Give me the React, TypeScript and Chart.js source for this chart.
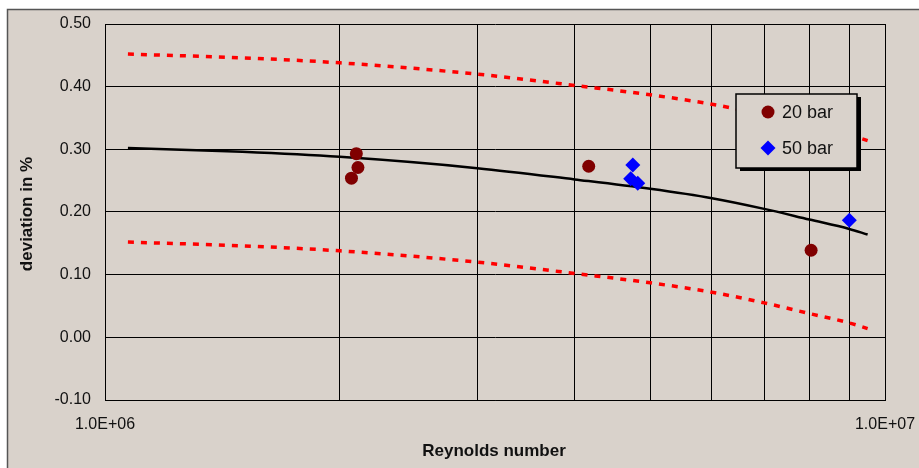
import React, { useEffect, useRef } from "react";
import { Chart, registerables } from "chart.js";

Chart.register(...registerables);

// Fitted curve and its ±band
const curveRe = [1.07e6, 1.5e6, 2e6, 3e6, 4e6, 5e6, 6e6, 7e6, 8e6, 9e6, 9.5e6];
const meanDev = [0.302, 0.296, 0.288, 0.27, 0.252, 0.237, 0.222, 0.205, 0.188, 0.173, 0.164];
const upperDev = [0.452, 0.446, 0.438, 0.42, 0.402, 0.387, 0.372, 0.355, 0.338, 0.323, 0.314];
const lowerDev = [0.152, 0.146, 0.138, 0.12, 0.102, 0.087, 0.072, 0.055, 0.038, 0.023, 0.014];

// Measurements
const bar20Re = [2.07e6, 2.1e6, 2.11e6, 4.17e6, 8.04e6];
const bar20Dev = [0.254, 0.293, 0.271, 0.273, 0.139];
const bar50Re = [4.75e6, 4.72e6, 4.82e6, 9.0e6];
const bar50Dev = [0.275, 0.253, 0.246, 0.187];

// Axes
const xTickValues = [1e6, 2e6, 3e6, 4e6, 5e6, 6e6, 7e6, 8e6, 9e6, 1e7];
const xLabelValues = [1e6, 1e7];
const xLabelTexts = ["1.0E+06", "1.0E+07"];
const yTickValues = [-0.1, 0, 0.1, 0.2, 0.3, 0.4, 0.5];

const BG = "#d9d2cb";
const FONT = "'Liberation Sans', Arial, sans-serif";

const zip = (xs: number[], ys: number[]) => xs.map((x, i) => ({ x, y: ys[i] }));

const bgPlugin = {
  id: "bgPlugin",
  beforeDraw(chart: any) {
    const { ctx, width, height } = chart;
    ctx.save();
    ctx.fillStyle = "#ffffff";
    ctx.fillRect(0, 0, width, height);
    ctx.fillStyle = BG;
    ctx.fillRect(7, 9, width, height);
    ctx.strokeStyle = "#555555";
    ctx.lineWidth = 1.5;
    ctx.strokeRect(7.5, 9.5, width + 10, height + 10);
    ctx.restore();
  },
};

const legendPlugin = {
  id: "boxLegend",
  afterDatasetsDraw(chart: any) {
    const { ctx } = chart;
    const ds = chart.data.datasets.filter((d: any) => d.inLegend);
    const x0 = 736;
    const y0 = 94;
    const w = 121;
    const h = 74;
    ctx.save();
    ctx.fillStyle = "#000";
    ctx.fillRect(x0 + 4, y0 + 3, w, h);
    ctx.fillStyle = BG;
    ctx.fillRect(x0, y0, w, h);
    ctx.strokeStyle = "#000";
    ctx.lineWidth = 1.5;
    ctx.strokeRect(x0, y0, w, h);
    ds.forEach((d: any, i: number) => {
      const cy = y0 + 18 + i * 36;
      const cx = x0 + 32;
      ctx.fillStyle = d.backgroundColor;
      ctx.beginPath();
      if (d.pointStyle === "rectRot") {
        const r = 7.5;
        ctx.moveTo(cx, cy - r);
        ctx.lineTo(cx + r, cy);
        ctx.lineTo(cx, cy + r);
        ctx.lineTo(cx - r, cy);
        ctx.closePath();
      } else {
        ctx.arc(cx, cy, 6.5, 0, Math.PI * 2);
      }
      ctx.fill();
      ctx.fillStyle = "#111";
      ctx.font = `18px ${FONT}`;
      ctx.textBaseline = "middle";
      ctx.textAlign = "left";
      ctx.fillText(d.label, x0 + 46, cy + 1);
    });
    ctx.restore();
  },
};

const titlePlugin = {
  id: "axisTitles",
  afterDraw(chart: any) {
    const { ctx } = chart;
    ctx.save();
    ctx.fillStyle = "#111";
    ctx.font = `bold 17px ${FONT}`;
    ctx.textAlign = "center";
    ctx.textBaseline = "middle";
    ctx.fillText("Reynolds number", 494, 451);
    ctx.translate(27, 214);
    ctx.rotate(-Math.PI / 2);
    ctx.fillText("deviation in %", 0, 0);
    ctx.restore();
  },
};

export default function App() {
  const ref = useRef<HTMLCanvasElement | null>(null);

  useEffect(() => {
    if (!ref.current) return;
    const chart = new Chart(ref.current, {
      type: "scatter",
      data: {
        datasets: [
          {
            label: "20 bar",
            inLegend: true,
            data: zip(bar20Re, bar20Dev),
            pointStyle: "circle",
            pointRadius: 6.5,
            backgroundColor: "#800000",
            borderColor: "#800000",
            borderWidth: 0,
            showLine: false,
          } as any,
          {
            label: "50 bar",
            inLegend: true,
            data: zip(bar50Re, bar50Dev),
            pointStyle: "rectRot",
            pointRadius: 7.5,
            backgroundColor: "#0000ff",
            borderColor: "#0000ff",
            borderWidth: 0,
            showLine: false,
          } as any,
          {
            label: "mean",
            data: zip(curveRe, meanDev),
            showLine: true,
            pointRadius: 0,
            borderColor: "#000000",
            borderWidth: 2.5,
            cubicInterpolationMode: "monotone",
          } as any,
          {
            label: "upper",
            data: zip(curveRe, upperDev),
            showLine: true,
            pointRadius: 0,
            borderColor: "#ff0000",
            borderWidth: 3.5,
            borderDash: [6, 7],
            cubicInterpolationMode: "monotone",
          } as any,
          {
            label: "lower",
            data: zip(curveRe, lowerDev),
            showLine: true,
            pointRadius: 0,
            borderColor: "#ff0000",
            borderWidth: 3.5,
            borderDash: [6, 7],
            cubicInterpolationMode: "monotone",
          } as any,
        ],
      },
      options: {
        animation: false,
        responsive: false,
        devicePixelRatio: 1,
        layout: { padding: { top: 24, right: 34, left: 0, bottom: 0 } },
        plugins: {
          legend: { display: false },
          tooltip: { enabled: false },
        },
        scales: {
          x: {
            type: "logarithmic",
            min: 1e6,
            max: 1e7,
            afterBuildTicks: (scale: any) => {
              scale.ticks = xTickValues.map((v) => ({ value: v }));
            },
            afterFit: (scale: any) => {
              scale.height = 68;
              scale.paddingLeft = 0;
              scale.paddingRight = 0;
            },
            ticks: {
              autoSkip: false,
              maxRotation: 0,
              padding: 15,
              color: "#111",
              font: { family: FONT, size: 16 },
              callback: (v: any) => {
                const i = xLabelValues.indexOf(Number(v));
                return i >= 0 ? xLabelTexts[i] : "";
              },
            },
            grid: { color: "#000", lineWidth: 1, drawTicks: false },
            border: { display: true, color: "#000", width: 1 },
          },
          y: {
            min: -0.1,
            max: 0.5,
            afterBuildTicks: (scale: any) => {
              scale.ticks = yTickValues.map((v) => ({ value: v }));
            },
            afterFit: (scale: any) => {
              scale.width = 105;
              scale.paddingTop = 0;
              scale.paddingBottom = 0;
            },
            ticks: {
              padding: 14,
              color: "#111",
              font: { family: FONT, size: 16 },
              callback: (v: any) => Number(v).toFixed(2),
            },
            grid: { color: "#000", lineWidth: 1, drawTicks: false },
            border: { display: true, color: "#000", width: 1 },
          },
        },
      } as any,
      plugins: [bgPlugin, legendPlugin, titlePlugin],
    });
    return () => chart.destroy();
  }, []);

  return (
    <div style={{ position: "fixed", left: 0, top: 0, width: 919, height: 468 }}>
      <canvas ref={ref} width={919} height={468} style={{ width: 919, height: 468, display: "block" }} />
    </div>
  );
}
